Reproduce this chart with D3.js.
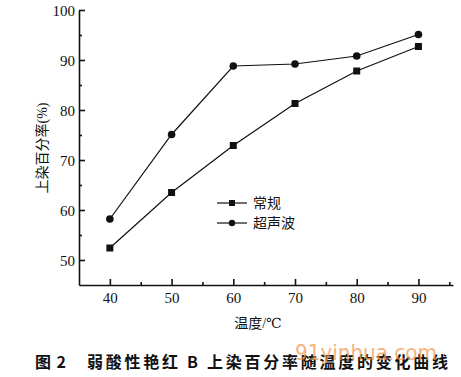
<!DOCTYPE html>
<html>
<head>
<meta charset="utf-8">
<script src="https://cdn.jsdelivr.net/npm/d3@7"></script>
<style>
  body { margin: 0; background: #fff; }
  text { fill: #111; }
</style>
</head>
<body>
<svg id="drawing_region"></svg>
<script>
const temps = [40, 50, 60, 70, 80, 90];
const normalVals = [52.4, 63.5, 72.9, 81.3, 87.8, 92.7];
const ultraVals = [58.2, 75.1, 88.8, 89.2, 90.8, 95.1];
const seriesNames = ["常规", "超声波"];
const xTicks = [40, 50, 60, 70, 80, 90];
const yTicks = [50, 60, 70, 80, 90, 100];

const serif = '"Liberation Serif", "DejaVu Serif", "Noto Sans CJK SC", serif';

var config = {
    parent: '#drawing_region',
    width: 461,
    height: 377,
    margin: {top: 10, right: 8, bottom: 92, left: 79}
};

const svg = d3.select(config.parent)
              .attr('width', config.width)
              .attr('height', config.height);

const inner_width = config.width - config.margin.left - config.margin.right;
const inner_height = config.height - config.margin.top - config.margin.bottom;

const chart = svg.append('g')
                 .attr('transform', `translate(${config.margin.left}, ${config.margin.top})`);

const xscale = d3.scaleLinear().domain([35, 95.6]).range([0, inner_width]);
const yscale = d3.scaleLinear().domain([45, 100]).range([inner_height, 0]);

// minor ticks
chart.append('g')
     .attr('transform', `translate(0, ${inner_height})`)
     .call(d3.axisTop(xscale).tickValues([45, 55, 65, 75, 85, 95]).tickSize(3).tickFormat(''))
     .call(g => g.select('.domain').remove());
chart.append('g')
     .call(d3.axisRight(yscale).tickValues([55, 65, 75, 85, 95]).tickSize(3).tickFormat(''))
     .call(g => g.select('.domain').remove());

// major axes
const xaxis_group = chart.append('g')
     .attr('transform', `translate(0, ${inner_height})`)
     .call(d3.axisTop(xscale).tickValues(xTicks).tickSize(6).tickSizeOuter(0));
xaxis_group.attr('font-family', serif).attr('font-size', 15);
xaxis_group.selectAll('.tick text')
     .attr('y', 18).attr('dy', 0);

const yaxis_group = chart.append('g')
     .call(d3.axisRight(yscale).tickValues(yTicks).tickSize(6).tickSizeOuter(0));
yaxis_group.attr('font-family', serif).attr('font-size', 15);
yaxis_group.selectAll('.tick text')
     .attr('x', -4).attr('dy', '0.35em')
     .attr('text-anchor', 'end');

svg.selectAll('.domain, .tick line').attr('stroke', '#111').attr('stroke-width', 1.6);

const line = d3.line()
               .x((d, i) => xscale(temps[i]))
               .y(d => yscale(d));

chart.append('path').datum(normalVals)
     .attr('fill', 'none').attr('stroke', '#111').attr('stroke-width', 1.2)
     .attr('d', line);
chart.append('path').datum(ultraVals)
     .attr('fill', 'none').attr('stroke', '#111').attr('stroke-width', 1.2)
     .attr('d', line);

chart.selectAll('rect.pt')
     .data(normalVals)
     .join('rect')
     .attr('class', 'pt')
     .attr('x', (d, i) => xscale(temps[i]) - 3.5)
     .attr('y', d => yscale(d) - 3.5)
     .attr('width', 7).attr('height', 7)
     .attr('fill', '#111');

chart.selectAll('circle.pt')
     .data(ultraVals)
     .join('circle')
     .attr('class', 'pt')
     .attr('cx', (d, i) => xscale(temps[i]))
     .attr('cy', d => yscale(d))
     .attr('r', 3.8)
     .attr('fill', '#111');

// legend
const legend = svg.append('g').attr('transform', 'translate(217, 203)');
seriesNames.forEach((name, i) => {
    const g = legend.append('g').attr('transform', `translate(0, ${i * 20})`);
    g.append('line').attr('x1', 0).attr('x2', 30).attr('y1', 0).attr('y2', 0)
     .attr('stroke', '#111').attr('stroke-width', 1.2);
    if (i === 0) {
        g.append('rect').attr('x', 12).attr('y', -3).attr('width', 6).attr('height', 6).attr('fill', '#111');
    } else {
        g.append('circle').attr('cx', 15).attr('cy', 0).attr('r', 3.2).attr('fill', '#111');
    }
    g.append('text').attr('x', 36).attr('y', 5)
     .style('font-size', '14px')
     .style('font-family', serif)
     .text(name);
});

// axis titles
svg.append('text')
   .attr('transform', 'translate(47, 148) rotate(-90)')
   .attr('text-anchor', 'middle')
   .style('font-size', '14px')
   .style('font-family', serif)
   .text('上染百分率(%)');

svg.append('text')
   .attr('x', 258).attr('y', 328)
   .attr('text-anchor', 'middle')
   .style('font-size', '14px')
   .style('font-family', serif)
   .text('温度/℃');

// caption
const capStyle = t => t.attr('y', 368)
   .style('font-size', '16px')
   .style('font-weight', 'bold')
   .style('white-space', 'pre')
   .style('font-family', '"Noto Sans CJK SC", sans-serif');

svg.append('text').attr('x', 35)
   .attr('textLength', 31).attr('lengthAdjust', 'spacing')
   .call(capStyle).text('图 2');
svg.append('text').attr('x', 87)
   .attr('textLength', 361).attr('lengthAdjust', 'spacing')
   .call(capStyle).text('弱酸性艳红 B 上染百分率随温度的变化曲线');

// watermark
svg.append('text')
   .attr('x', 295).attr('y', 360)
   .attr('textLength', 142).attr('lengthAdjust', 'spacingAndGlyphs')
   .style('font-size', '22px')
   .style('font-family', '"DejaVu Sans", sans-serif')
   .style('fill', '#f29a52')
   .style('opacity', 0.75)
   .text('91yinhua.com');
</script>
</body>
</html>
